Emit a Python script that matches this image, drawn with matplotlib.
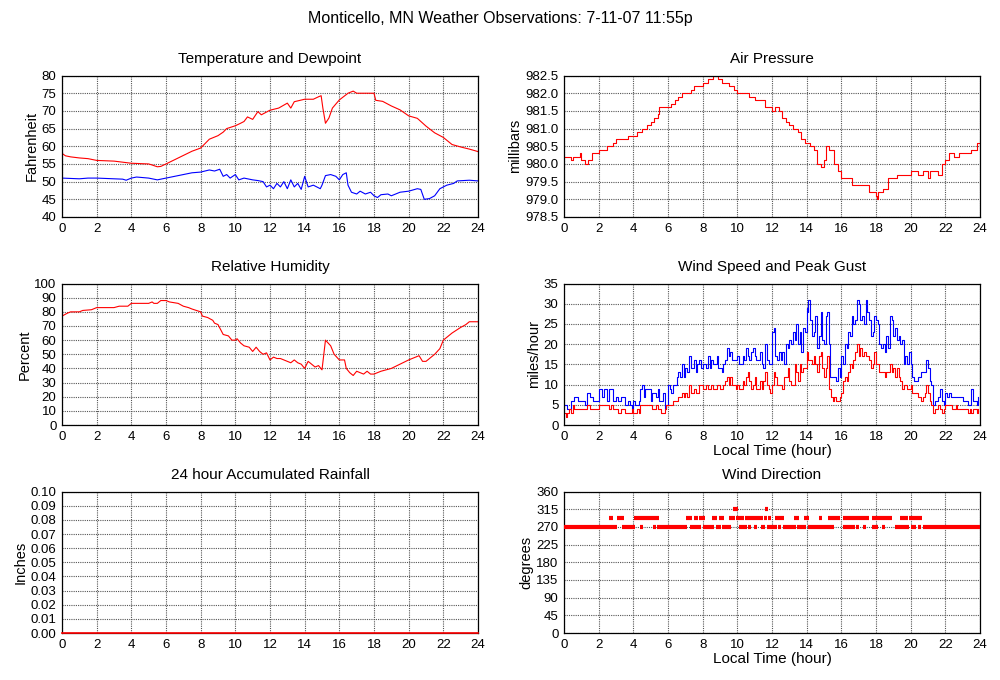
import numpy as np
import matplotlib
matplotlib.use("Agg")
import matplotlib.pyplot as plt

plt.rcParams['font.family'] = ['Liberation Sans', 'DejaVu Sans']

# --- temperature / dewpoint (F) ---
temp_hours = [0, 0.2, 0.5, 1, 1.5, 2, 3, 3.5, 4, 5,
              5.2, 5.5, 5.7, 6, 6.5, 7, 7.5, 8, 8.5, 9,
              9.3, 9.5, 10, 10.3, 10.5, 10.7, 11, 11.3, 11.5, 12,
              12.5, 13, 13.2, 13.4, 14, 14.5, 14.8, 14.95, 15.05, 15.2,
              15.4, 15.6, 16, 16.5, 16.8, 17, 18, 18.1, 18.5, 19,
              19.5, 20, 20.5, 21, 21.5, 22, 22.5, 23, 23.5, 24]
temp_f = [58, 57.3, 57, 56.7, 56.5, 56, 55.8, 55.5, 55.2, 55,
          54.7, 54.2, 54.3, 55, 56.2, 57.4, 58.6, 59.5, 62, 63,
          64, 65, 65.8, 66.5, 67, 68.3, 67.6, 69.8, 68.9, 70.2,
          70.8, 72.2, 70.8, 72.6, 73.3, 73.3, 74, 74.3, 70.8, 66.5,
          68, 70.8, 73.1, 75, 75.6, 75, 75, 73, 72.7, 71.4,
          70.3, 68.6, 67.9, 65.7, 63.8, 62.5, 60.5, 59.8, 59.2, 58.5]

dew_hours = [0, 1, 1.5, 2, 3, 3.5, 3.7, 4, 4.3, 5,
             5.5, 6, 6.5, 7, 7.5, 8, 8.5, 8.8, 9.1, 9.3,
             9.5, 9.7, 10, 10.2, 10.5, 11, 11.3, 11.6, 11.8, 12,
             12.2, 12.4, 12.6, 12.8, 13, 13.2, 13.4, 13.6, 13.8, 14,
             14.2, 14.5, 14.7, 14.9, 15, 15.2, 15.5, 15.8, 16, 16.2,
             16.4, 16.5, 16.7, 17, 17.2, 17.5, 17.8, 18, 18.2, 18.4,
             18.8, 19, 19.5, 20, 20.5, 20.7, 20.9, 21.2, 21.5, 21.8,
             22.2, 22.6, 22.8, 23.5, 24]
dew_f = [51, 50.8, 51, 51, 50.8, 50.7, 50.4, 51, 51.3, 51,
         50.5, 51, 51.5, 52, 52.5, 52.7, 53.3, 53, 53.5, 51.5,
         52, 51, 52, 50.5, 51, 50.5, 50.3, 50, 48.5, 49,
         48, 49.5, 48.5, 50, 48, 50.5, 48.5, 49.5, 47.8, 51.5,
         48.5, 49, 48.5, 48, 49, 51.7, 52, 51.5, 50.5, 52,
         52.5, 49, 47, 46.5, 47.3, 46.5, 47, 46, 45.5, 46.3,
         46.5, 46, 47, 47.3, 48, 47.8, 45, 45.2, 46, 48,
         49, 49.5, 50.2, 50.4, 50.2]

# --- air pressure (mb) ---
pres_hours = [0, 0.3, 0.4, 0.5, 0.8, 0.9, 1.0, 1.2, 1.4, 1.6,
              1.9, 2, 2.3, 2.5, 2.8, 3, 3.5, 3.7, 4, 4.2,
              4.5, 4.8, 5.0, 5.2, 5.4, 5.5, 6, 6.2, 6.4, 6.6,
              6.8, 7.3, 7.5, 7.8, 8.0, 8.3, 8.6, 8.9, 9.1, 9.3,
              9.5, 9.8, 10, 10.5, 10.7, 11, 11.4, 11.6, 12, 12.2,
              12.4, 12.6, 12.8, 13, 13.2, 13.5, 13.7, 13.9, 14.2, 14.4,
              14.6, 14.8, 15, 15.1, 15.3, 15.6, 15.8, 16.0, 16.4, 16.6,
              17.2, 17.6, 18.0, 18.05, 18.1, 18.4, 18.7, 19.0, 19.2, 19.7,
              20, 20.4, 20.7, 21.0, 21.1, 21.5, 21.6, 21.8, 22, 22.2,
              22.5, 22.8, 23.2, 23.5, 23.8, 24]
pres_mb = [980.2, 980.2, 980.1, 980.2, 980.2, 980.3, 980.1, 980.0, 980.1, 980.3,
           980.3, 980.4, 980.4, 980.5, 980.6, 980.7, 980.7, 980.8, 980.8, 980.9,
           981.0, 981.1, 981.2, 981.3, 981.4, 981.6, 981.6, 981.7, 981.8, 981.9,
           982.0, 982.1, 982.2, 982.2, 982.3, 982.4, 982.5, 982.4, 982.3, 982.3,
           982.2, 982.1, 982.0, 982.0, 981.9, 981.8, 981.8, 981.6, 981.5, 981.6,
           981.5, 981.3, 981.2, 981.1, 981.0, 980.9, 980.7, 980.6, 980.5, 980.4,
           980.0, 979.9, 980.1, 980.5, 980.4, 980.0, 979.8, 979.6, 979.6, 979.4,
           979.4, 979.2, 979.1, 979.0, 979.2, 979.3, 979.6, 979.6, 979.7, 979.7,
           979.8, 979.7, 979.8, 979.6, 979.8, 979.8, 979.7, 980.0, 980.1, 980.3,
           980.2, 980.3, 980.3, 980.4, 980.6, 980.5]

# --- relative humidity (%) ---
rh_hours = [0, 0.3, 0.5, 1, 1.2, 1.7, 2, 3, 3.3, 3.8,
            4, 5, 5.2, 5.3, 5.5, 5.7, 6, 6.2, 6.7, 7,
            7.3, 7.5, 8, 8.1, 8.4, 8.7, 8.8, 9, 9.3, 9.6,
            9.8, 10, 10.1, 10.3, 10.5, 10.8, 11, 11.2, 11.4, 11.6,
            11.8, 12, 12.2, 12.4, 12.6, 12.8, 13, 13.2, 13.4, 13.6,
            13.8, 14, 14.2, 14.4, 14.6, 14.8, 15, 15.2, 15.5, 15.7,
            16, 16.3, 16.4, 16.6, 16.8, 17.0, 17.2, 17.4, 17.6, 17.8,
            18, 18.4, 18.7, 19, 19.5, 20, 20.6, 20.8, 21.0, 21.5,
            21.8, 22, 22.5, 23, 23.3, 23.5, 24]
rh_pct = [77, 79, 80, 80, 81, 81.5, 83, 83, 84, 84,
          86, 86, 87, 86, 86, 88, 88, 87, 86, 84,
          83, 82, 80, 77, 76, 74, 72, 71, 64, 63,
          60, 60, 61, 58, 56, 55, 52, 55, 52, 50,
          51, 46, 48, 47, 47, 46, 45, 44, 46, 44,
          43, 40, 45, 43, 41, 42, 39, 60, 56, 50,
          46, 46, 40, 37, 35, 38, 37, 36, 38, 36,
          36, 38, 39, 40, 43, 46, 49, 45, 45, 50,
          54, 60, 65, 69, 71, 73, 73]

# --- peak gust (mph) ---
gust_hours = [0.0, 0.2, 0.4, 0.6, 0.8, 1.0, 1.2, 1.3, 1.5, 1.7,
              1.9, 2.0, 2.2, 2.3, 2.5, 2.6, 2.8, 3.0, 3.1, 3.3,
              3.5, 3.7, 3.8, 3.9, 4.0, 4.1, 4.3, 4.4, 4.5, 4.6,
              4.7, 4.9, 5.0, 5.1, 5.3, 5.4, 5.5, 5.7, 5.8, 5.9,
              6.0, 6.1, 6.2, 6.3, 6.5, 6.6, 6.7, 6.8, 6.9, 7.0,
              7.1, 7.2, 7.3, 7.5, 7.6, 7.7, 7.8, 7.9, 8.0, 8.2,
              8.3, 8.4, 8.5, 8.6, 8.8, 8.9, 9.0, 9.1, 9.2, 9.3,
              9.4, 9.5, 9.6, 9.7, 9.9, 10.0, 10.1, 10.3, 10.4, 10.5,
              10.6, 10.7, 10.8, 10.9, 11.0, 11.1, 11.3, 11.4, 11.5, 11.6,
              11.7, 11.8, 11.9, 12.0, 12.1, 12.2, 12.3, 12.4, 12.5, 12.6,
              12.7, 12.8, 12.9, 13.0, 13.1, 13.2, 13.3, 13.4, 13.5, 13.6,
              13.7, 13.8, 13.9, 14.0, 14.05, 14.1, 14.2, 14.3, 14.4, 14.5,
              14.6, 14.7, 14.8, 14.9, 15.0, 15.1, 15.2, 15.3, 15.35, 15.5,
              15.7, 15.8, 15.9, 16.0, 16.1, 16.2, 16.3, 16.4, 16.5, 16.6,
              16.7, 16.8, 16.9, 17.0, 17.1, 17.2, 17.3, 17.4, 17.5, 17.6,
              17.7, 17.8, 17.9, 18.0, 18.1, 18.2, 18.3, 18.4, 18.5, 18.6,
              18.7, 18.8, 18.9, 19.0, 19.1, 19.2, 19.3, 19.4, 19.5, 19.6,
              19.7, 19.8, 19.9, 20.0, 20.1, 20.2, 20.4, 20.6, 20.8, 20.9,
              21.0, 21.1, 21.2, 21.3, 21.4, 21.6, 21.7, 21.8, 21.9, 22.0,
              22.1, 22.2, 22.3, 22.6, 22.8, 23.0, 23.2, 23.3, 23.5, 23.6,
              23.7, 23.8, 23.9]
gust_mph = [5, 4, 6, 7, 6, 6, 5, 8, 7, 6,
            6, 9, 7, 9, 6, 9, 6, 7, 6, 7,
            5, 6, 5, 4, 6, 5, 6, 9, 10, 7,
            9, 9, 6, 8, 7, 9, 6, 8, 4, 5,
            10, 9, 8, 10, 12, 13, 12, 15, 12, 14,
            13, 17, 14, 16, 13, 15, 16, 14, 15, 14,
            17, 14, 16, 15, 17, 14, 14, 13, 15, 16,
            19, 17, 18, 16, 16, 17, 15, 17, 16, 19,
            17, 16, 18, 19, 17, 16, 18, 15, 14, 20,
            16, 15, 15, 23, 24, 17, 16, 18, 16, 18,
            15, 20, 19, 21, 20, 23, 21, 25, 20, 23,
            18, 24, 23, 29, 28, 31, 26, 22, 23, 27,
            19, 22, 28, 21, 20, 27, 28, 20, 12, 12,
            11, 14, 12, 17, 15, 20, 19, 23, 22, 27,
            25, 26, 31, 30, 26, 27, 25, 31, 28, 26,
            22, 23, 27, 26, 25, 20, 19, 20, 18, 22,
            19, 27, 26, 22, 24, 21, 22, 20, 21, 15,
            17, 15, 18, 15, 12, 11, 12, 13, 13, 16,
            14, 11, 10, 5, 6, 7, 9, 6, 5, 8,
            7, 8, 7, 7, 7, 6, 6, 5, 9, 6,
            6, 5, 7]

# --- sustained wind speed (mph) ---
wind_hours = [0.0, 0.1, 0.2, 0.3, 0.4, 0.5, 0.6, 1.0, 1.3, 1.5,
              2.0, 2.5, 2.6, 2.7, 2.8, 3.0, 3.1, 3.3, 3.5, 3.8,
              3.9, 4.0, 4.2, 4.3, 4.4, 5.0, 5.1, 5.3, 5.4, 5.5,
              5.6, 5.8, 5.9, 6.2, 6.3, 6.6, 6.8, 6.9, 7.0, 7.1,
              7.2, 7.3, 7.5, 7.6, 7.8, 8.0, 8.2, 8.3, 8.5, 8.6,
              8.8, 9.0, 9.2, 9.3, 9.4, 9.5, 9.6, 9.7, 9.9, 10.0,
              10.1, 10.3, 10.4, 10.5, 10.6, 10.7, 10.8, 10.9, 11.0, 11.1,
              11.3, 11.4, 11.5, 11.6, 11.7, 11.8, 11.9, 12.0, 12.1, 12.2,
              12.3, 12.5, 12.6, 12.7, 12.9, 13.0, 13.1, 13.3, 13.4, 13.5,
              13.6, 13.7, 13.8, 14.0, 14.1, 14.3, 14.4, 14.5, 14.6, 14.7,
              14.8, 14.9, 15.0, 15.1, 15.2, 15.3, 15.4, 15.5, 15.6, 15.7,
              15.9, 16.0, 16.1, 16.2, 16.3, 16.4, 16.5, 16.6, 16.7, 16.8,
              16.9, 17.0, 17.1, 17.2, 17.3, 17.4, 17.5, 17.6, 17.7, 17.8,
              17.9, 18.0, 18.2, 18.4, 18.5, 18.6, 18.8, 18.9, 19.0, 19.1,
              19.2, 19.3, 19.4, 19.5, 19.6, 19.8, 20.0, 20.1, 20.2, 20.4,
              20.5, 20.6, 20.7, 20.8, 20.9, 21.0, 21.1, 21.2, 21.3, 21.4,
              21.5, 21.6, 21.7, 21.8, 21.9, 22.0, 22.3, 22.4, 22.6, 22.7,
              23.0, 23.3, 23.4, 23.5, 23.6, 23.8, 23.9]
wind_mph = [3, 2, 3, 4, 3, 5, 4, 4, 5, 4,
            5, 5, 4, 5, 4, 4, 3, 4, 3, 3,
            4, 3, 4, 3, 5, 5, 4, 5, 4, 4,
            3, 4, 5, 5, 6, 7, 8, 7, 8, 7,
            10, 8, 9, 8, 10, 9, 10, 9, 10, 9,
            10, 9, 10, 11, 12, 10, 12, 10, 9, 10,
            9, 11, 10, 12, 13, 11, 9, 10, 12, 9,
            11, 9, 11, 13, 10, 9, 8, 10, 13, 12,
            10, 10, 9, 12, 14, 11, 10, 15, 13, 11,
            15, 13, 14, 18, 16, 15, 17, 15, 13, 17,
            18, 14, 12, 14, 17, 9, 7, 6, 7, 6,
            7, 8, 11, 12, 11, 13, 15, 14, 16, 18,
            20, 17, 19, 17, 18, 17, 17, 16, 14, 15,
            18, 15, 13, 13, 12, 13, 15, 13, 14, 12,
            14, 12, 11, 9, 10, 9, 10, 8, 8, 7,
            7, 6, 7, 8, 10, 8, 6, 5, 3, 4,
            4, 5, 4, 3, 4, 5, 5, 4, 5, 4,
            4, 3, 4, 3, 4, 3, 4]

# --- rainfall (in) ---
rain_hours = [0, 24]
rain_in = [0.0, 0.0]

# --- wind direction: runs of constant reported direction ---
dir_start = [0.0, 3.37, 4.38, 5.15, 5.37, 7.27, 8.04, 8.77, 9.13, 10.1,
             10.6, 10.94, 11.37, 11.73, 12.35, 12.63, 13.46, 14.06, 16.08, 16.85,
             17.25, 17.77, 18.35, 19.1, 20.04, 20.42, 20.71,
             2.6, 3.08, 4.04, 7.04, 7.5, 7.79, 8.54, 8.94, 9.52, 9.92,
             10.44, 11.54, 11.79, 12.17, 13.27, 13.85, 14.73, 15.25, 16.12, 17.75,
             19.4, 19.92,
             9.75, 11.6]
dir_end = [3.08, 4.12, 4.54, 5.31, 7.12, 7.88, 8.65, 9.06, 9.62, 10.54,
           10.79, 11.12, 11.6, 12.27, 12.52, 13.37, 13.94, 15.6, 16.77, 17.02,
           17.42, 18.1, 18.52, 19.92, 20.29, 20.6, 24.0,
           2.81, 3.44, 5.46, 7.37, 7.71, 8.12, 8.85, 9.21, 9.85, 10.37,
           11.46, 11.71, 11.94, 12.67, 13.56, 14.13, 14.9, 15.92, 17.6, 18.94,
           19.85, 20.67,
           10.02, 11.75]
dir_deg = [270] * 27 + [292.5] * 22 + [315] * 2

hour_ticks = list(range(0, 25, 2))

fig = plt.figure(figsize=(10, 6.8), dpi=100)
fig.text(0.5, 1 - 18 / 680, "Monticello, MN Weather Observations: 7-11-07 11:55p",
         ha='center', va='center', fontsize=11.5)

col_left = [0.062, 0.564]
row_bottom = [0.6809, 0.375, 0.0691]
w, h = 0.416, 0.208


def make_ax(col, row, title, ylabel, ylim, yticks, fmt):
    ax = fig.add_axes([col_left[col], row_bottom[row], w, h])
    ax.set_xlim(0, 24)
    ax.set_ylim(*ylim)
    ax.set_xticks(hour_ticks)
    ax.set_yticks(yticks)
    ax.set_yticklabels([fmt.format(v) for v in yticks])
    ax.tick_params(length=0, pad=4, labelsize=9.5)
    ax.grid(True, color='#555555', linestyle=(0, (1, 1)), linewidth=0.8)
    ax.set_axisbelow(True)
    for s in ax.spines.values():
        s.set_linewidth(0.9)
    ax.set_title(title, fontsize=11, pad=9)
    ax.set_ylabel(ylabel, fontsize=10.5, labelpad=2)
    return ax


ax = make_ax(0, 0, "Temperature and Dewpoint", "Fahrenheit", (40, 80),
             list(range(40, 81, 5)), "{:d}")
ax.plot(temp_hours, temp_f, color='red', lw=0.8)
ax.plot(dew_hours, dew_f, color='blue', lw=0.8)

ax = make_ax(1, 0, "Air Pressure", "millibars", (978.5, 982.5),
             list(np.arange(978.5, 982.51, 0.5)), "{:.1f}")
ax.plot(pres_hours, pres_mb, color='red', lw=0.8, drawstyle='steps-post')

ax = make_ax(0, 1, "Relative Humidity", "Percent", (0, 100),
             list(range(0, 101, 10)), "{:d}")
ax.plot(rh_hours, rh_pct, color='red', lw=0.8)

ax = make_ax(1, 1, "Wind Speed and Peak Gust", "miles/hour", (0, 35),
             list(range(0, 36, 5)), "{:d}")
ax.plot(gust_hours, gust_mph, color='blue', lw=0.8, drawstyle='steps-post')
ax.plot(wind_hours, wind_mph, color='red', lw=0.8, drawstyle='steps-post')
ax.set_xlabel("Local Time (hour)", fontsize=11, labelpad=1)

ax = make_ax(0, 2, "24 hour Accumulated Rainfall", "Inches", (0, 0.1),
             list(np.arange(0, 0.101, 0.01)), "{:.2f}")
ax.plot(rain_hours, rain_in, color='red', lw=1.2, clip_on=False, zorder=5)

ax = make_ax(1, 2, "Wind Direction", "degrees", (0, 360),
             list(range(0, 361, 45)), "{:d}")
ax.hlines(dir_deg, dir_start, dir_end, color='red', lw=3, zorder=3)
ax.set_xlabel("Local Time (hour)", fontsize=11, labelpad=1)

fig.savefig("out.png", dpi=100)
